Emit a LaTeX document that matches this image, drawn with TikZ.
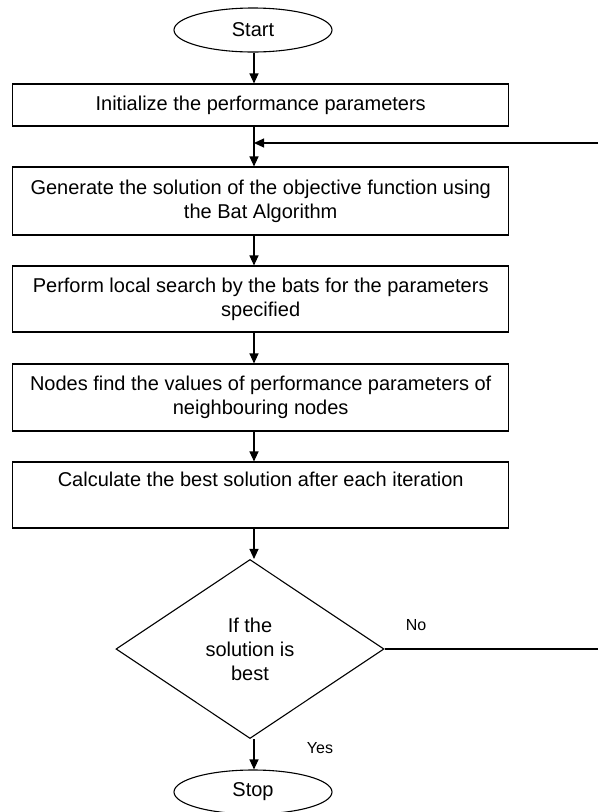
\documentclass[tikz,border=0pt]{standalone}
\usepackage{fontspec}
\setmainfont{Liberation Sans}
\usetikzlibrary{shapes.geometric,arrows.meta}
\begin{document}
\begin{tikzpicture}[x=1pt,y=-1pt,
  line width=1.1pt,
  every node/.style={font=\fontsize{20}{24}\selectfont, text=black},
  procbox/.style={draw, rectangle, minimum width=496pt, align=center, inner sep=0pt},
  term/.style={draw, ellipse, minimum width=158pt, minimum height=44pt, inner sep=0pt},
  dec/.style={draw, diamond, minimum width=268pt, minimum height=179pt, inner sep=0pt, align=center},
  arr/.style={-{Triangle[length=10pt,width=9pt]}},
  lbl/.style={font=\fontsize{16}{19}\selectfont}
]
\useasboundingbox (0,0) rectangle (598,812);
\coordinate (col) at (254,0);

\node[term] (start) at (253,30) {Start};
\node[procbox, minimum height=42pt] (b1) at (260.7,105) {Initialize the performance parameters};
\node[procbox, minimum height=68pt] (b2) at (260.7,201) {Generate the solution of the objective function using\\the Bat Algorithm};
\node[procbox, minimum height=66pt] (b3) at (260.7,299) {Perform local search by the bats for the parameters\\specified};
\node[procbox, minimum height=67pt] (b4) at (260.7,397.5) {Nodes find the values of performance parameters of\\neighbouring nodes};
\node[procbox, minimum height=66pt] (b5) at (260.7,495) {Calculate the best solution after each iteration\\\strut};
\node[dec] (d) at (250,649) {If the\\solution is\\best};
\node[term] (stop) at (253,792) {Stop};

\node[lbl] (nolbl) at (416,625) {No};
\node[lbl] (yeslbl) at (320,748) {Yes};

\coordinate (fbin) at (598,143);
\coordinate (fbj) at (254,143);
\coordinate (noend) at (598,649);

\draw[arr] (start.south -| col) -- (b1.north -| col);
\draw[arr] (b1.south -| col) -- (b2.north -| col);
\draw[arr] (fbin) -- (fbj);
\draw[arr] (b2.south -| col) -- (b3.north -| col);
\draw[arr] (b3.south -| col) -- (b4.north -| col);
\draw[arr] (b4.south -| col) -- (b5.north -| col);
\draw[arr] (b5.south -| col) -- (col |- d.north);
\draw (d.east) -- (noend);
\draw[arr] (d.south -| col) -- (stop.north -| col);
\end{tikzpicture}
\end{document}
